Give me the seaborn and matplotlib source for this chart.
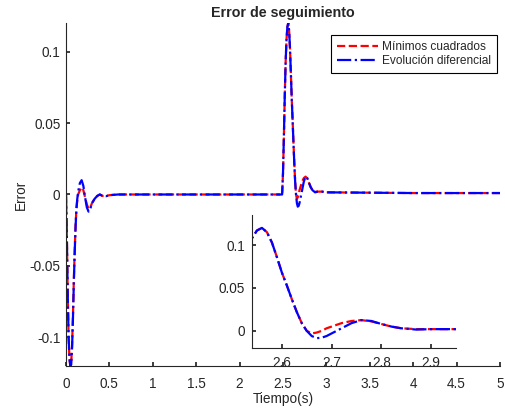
import numpy as np
import pandas as pd
import seaborn as sns
import matplotlib
matplotlib.use("Agg")
import matplotlib.pyplot as plt

# ─── Data ─────────────────────────────────────────────────────────────────────

t = [0.0, 0.01, 0.02, 0.03, 0.04, 0.05, 0.06, 0.07, 0.08, 0.09, 0.10, 0.11,
     0.12, 0.13, 0.14, 0.16, 0.18, 0.20, 0.22, 0.24, 0.26, 0.28, 0.30, 0.33,
     0.36, 0.39, 0.42, 0.46, 0.50, 0.60, 1.0, 2.0, 2.48, 2.49, 2.50, 2.51,
     2.52, 2.53, 2.54, 2.55, 2.56, 2.57, 2.58, 2.59, 2.60, 2.61, 2.62, 2.63,
     2.64, 2.65, 2.66, 2.67, 2.68, 2.69, 2.70, 2.72, 2.74, 2.76, 2.78, 2.80,
     2.82, 2.84, 2.87, 2.90, 2.95, 3.0, 4.0, 5.0]

err_mc = [0.0, -0.03, -0.07, -0.10, -0.115, -0.12, -0.118, -0.105, -0.085,
          -0.06, -0.04, -0.022, -0.01, -0.004, 0.0, 0.003, 0.005, 0.003,
          -0.002, -0.007, -0.010, -0.009, -0.006, -0.003, -0.001, 0.0, -0.001,
          -0.001, -0.0005, 0.0, 0.0, 0.0, 0.0, 0.0, 0.015, 0.04, 0.068, 0.092,
          0.108, 0.117, 0.12, 0.115, 0.103, 0.086, 0.068, 0.053, 0.037, 0.022,
          0.009, 0.0, -0.003, -0.002, 0.0, 0.003, 0.005, 0.009, 0.0115, 0.0125,
          0.011, 0.008, 0.005, 0.003, 0.002, 0.002, 0.002, 0.0015, 0.001, 0.001]

err_ed = [0.0, -0.03, -0.07, -0.10, -0.115, -0.12, -0.119, -0.107, -0.087,
          -0.062, -0.041, -0.023, -0.01, -0.003, 0.002, 0.008, 0.010, 0.006,
          -0.002, -0.009, -0.012, -0.010, -0.006, -0.003, -0.001, 0.0, -0.001,
          -0.0012, -0.0005, 0.0, 0.0, 0.0, 0.0, 0.0, 0.015, 0.04, 0.068, 0.092,
          0.108, 0.117, 0.12, 0.115, 0.103, 0.086, 0.068, 0.053, 0.037, 0.022,
          0.009, 0.0, -0.006, -0.0085, -0.008, -0.006, -0.003, 0.003, 0.009,
          0.0125, 0.0115, 0.008, 0.005, 0.003, 0.0015, 0.002, 0.002, 0.0015,
          0.001, 0.001]

labels = ["Mínimos cuadrados", "Evolución diferencial"]
main_xticks = [0, 0.5, 1, 1.5, 2, 2.5, 3, 3.5, 4, 4.5, 5]
main_yticks = [-0.1, -0.05, 0, 0.05, 0.1]
inset_xticks = [2.6, 2.7, 2.8, 2.9]
inset_yticks = [0, 0.05, 0.1]

df = pd.DataFrame({"t": t, "mc": err_mc, "ed": err_ed})

# ─── Style ────────────────────────────────────────────────────────────────────

sns.set_theme(style="ticks")
plt.rcParams["font.family"] = ["Liberation Sans", "DejaVu Sans"]
grey = "#262626"
plt.rcParams.update({
    "axes.edgecolor": grey, "xtick.color": grey, "ytick.color": grey,
    "xtick.labelcolor": grey, "ytick.labelcolor": grey,
    "xtick.direction": "in", "ytick.direction": "in",
    "xtick.major.size": 3, "ytick.major.size": 3,
    "axes.linewidth": 0.8,
})

fig = plt.figure(figsize=(5.05, 4.12), dpi=100)
ax = fig.add_axes([0.1307, 0.1117, 0.8594, 0.8325])


def draw(a, lw):
    sns.lineplot(data=df, x="t", y="mc", ax=a, color="#ff0000",
                 linestyle="--", linewidth=lw, label=labels[0])
    sns.lineplot(data=df, x="t", y="ed", ax=a, color="#0000ff",
                 linestyle="-.", linewidth=lw, label=labels[1])


draw(ax, 1.6)
ax.set_xlim(0, 5)
ax.set_ylim(-0.12, 0.12)
ax.set_xticks(main_xticks)
ax.set_xticklabels([f"{v:g}" for v in main_xticks])
ax.set_yticks(main_yticks)
ax.set_yticklabels([f"{v:g}" for v in main_yticks])
ax.tick_params(labelsize=9.8)
ax.tick_params(axis="x", pad=8)
ax.tick_params(axis="y", pad=4)
ax.set_xlabel("Tiempo(s)", fontsize=9.8, color=grey, labelpad=1)
ax.set_ylabel("Error", fontsize=9.8, color=grey, labelpad=1)
ax.set_title("Error de seguimiento", fontsize=10.3, fontweight="bold", pad=4)
sns.despine(ax=ax)
leg = ax.legend(loc="upper right", bbox_to_anchor=(0.993, 0.965),
                borderaxespad=0, fontsize=8.6, handlelength=3.5,
                fancybox=False, edgecolor="black", framealpha=1,
                borderpad=0.5, labelspacing=0.2, handletextpad=0.3)
leg.get_frame().set_linewidth(0.8)

# ─── Inset zoom on the second transient ───────────────────────────────────────

axin = fig.add_axes([0.499, 0.1553, 0.404, 0.3228])
draw(axin, 1.6)
axin.set_xlim(2.54, 2.95)
axin.set_ylim(-0.02, 0.135)
axin.set_xticks(inset_xticks)
axin.set_xticklabels([f"{v:g}" for v in inset_xticks])
axin.set_yticks(inset_yticks)
axin.set_yticklabels([f"{v:g}" for v in inset_yticks])
axin.tick_params(labelsize=9.8)
axin.tick_params(axis="x", pad=6)
axin.tick_params(axis="y", pad=5)
axin.set_xlabel("")
axin.set_ylabel("")
axin.get_legend().remove()
axin.patch.set_alpha(0)
sns.despine(ax=axin)

plt.savefig("out.png", dpi=100)
